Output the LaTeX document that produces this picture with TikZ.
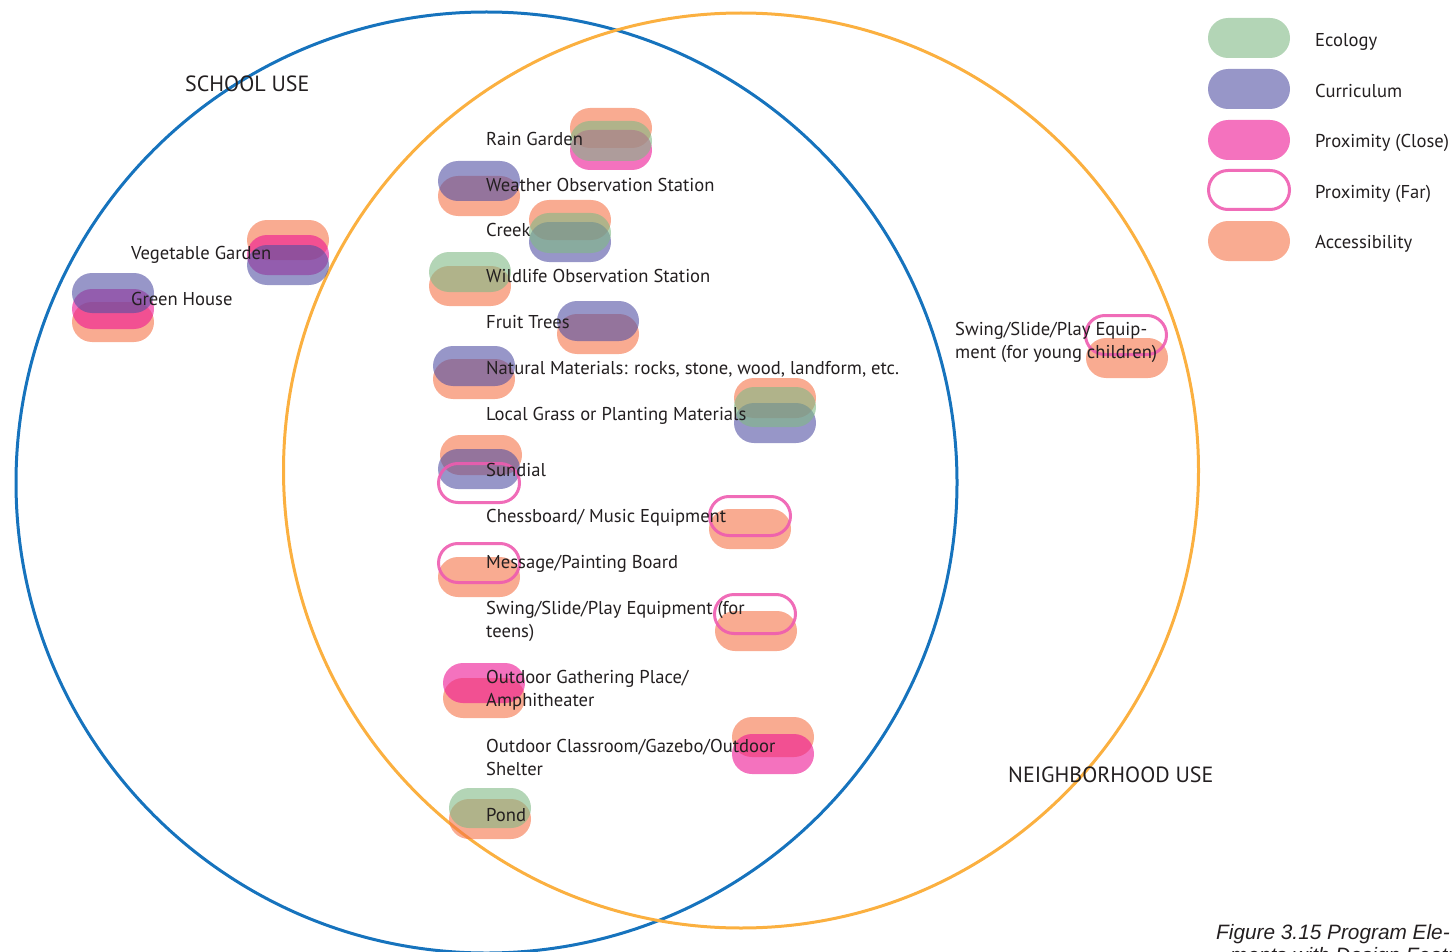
\documentclass[tikz,border=0pt]{standalone}
\usepackage{fontspec}
\setmainfont{PT Sans}
\newfontfamily\capfont{Liberation Sans}
\usetikzlibrary{calc}

\definecolor{txtgrey}{RGB}{35,31,32}
\definecolor{schoolblue}{RGB}{22,115,189}
\definecolor{hoodorange}{RGB}{251,176,64}
\definecolor{ecolC}{RGB}{128,185,133}
\definecolor{currC}{RGB}{82,80,163}
\definecolor{proxC}{RGB}{237,20,147}
\definecolor{accC}{RGB}{245,115,72}
\definecolor{ringC}{RGB}{238,92,176}

\tikzset{
  pillbase/.style={rounded corners=20pt},
  accpill/.style={pillbase, fill=accC, fill opacity=0.6},
  proxpill/.style={pillbase, fill=proxC, fill opacity=0.6},
  currpill/.style={pillbase, fill=currC, fill opacity=0.6},
  ecolpill/.style={pillbase, fill=ecolC, fill opacity=0.6},
  farring/.style={rounded corners=19.5pt, draw=ringC, line width=3pt, draw opacity=0.9},
  usecircle/.style={line width=3pt},
  lbl/.style={anchor=base west, inner sep=0pt, text=txtgrey,
    font=\fontsize{18.6}{22}\selectfont},
  zone/.style={anchor=base west, inner sep=0pt, text=txtgrey,
    font=\fontsize{22}{26}\selectfont},
  capt/.style={anchor=base west, inner sep=0pt, text=txtgrey,
    font=\capfont\itshape\fontsize{20.8}{24}\selectfont},
}

% pill: style, left x, top y
\newcommand\pill[3]{\fill[#1] (#2,#3) rectangle ++(82,40);}
% ring: left x, top y of the outer edge
\newcommand\farpill[2]{\draw[farring] ($(#1,#2)+(1.5,1.5)$) rectangle ++(81,39);}

\begin{document}
\begin{tikzpicture}[x=1pt,y=-1pt]
\useasboundingbox (0,0) rectangle (1453,952);

% the two use zones
\draw[usecircle, schoolblue] (486.5,482.5) circle[radius=470.5];
\draw[usecircle, hoodorange] (741,470.5) circle[radius=457.5];

\node[zone] (school) at (185,92) {SCHOOL USE};
\node[zone] (hood) at (1008,782) {NEIGHBORHOOD USE};

% ---- accessibility layer
\pill{accpill}{570}{108}
\pill{accpill}{438}{176}
\pill{accpill}{529}{200}
\pill{accpill}{429}{266}
\pill{accpill}{557}{314}
\pill{accpill}{433}{359}
\pill{accpill}{734}{378}
\pill{accpill}{440}{435}
\pill{accpill}{709}{509}
\pill{accpill}{438}{557}
\pill{accpill}{715}{611}
\pill{accpill}{443}{678}
\pill{accpill}{732}{717}
\pill{accpill}{449}{799}
\pill{accpill}{247}{220}
\pill{accpill}{72}{302}
\pill{accpill}{1086}{338}
% ---- proximity (close) layer
\pill{proxpill}{570}{130}
\pill{proxpill}{443}{663}
\pill{proxpill}{732}{734}
\pill{proxpill}{247}{235}
\pill{proxpill}{72}{289}
% ---- curriculum layer
\pill{currpill}{438}{161}
\pill{currpill}{529}{222}
\pill{currpill}{557}{301}
\pill{currpill}{433}{346}
\pill{currpill}{734}{403}
\pill{currpill}{438}{449}
\pill{currpill}{247}{245}
\pill{currpill}{72}{273}
% ---- ecology layer
\pill{ecolpill}{570}{121}
\pill{ecolpill}{529}{213}
\pill{ecolpill}{429}{252}
\pill{ecolpill}{734}{387}
\pill{ecolpill}{449}{788}
% ---- proximity (far) rings
\farpill{437}{462}
\farpill{708}{495}
\farpill{437}{542}
\farpill{713}{593}
\farpill{1084}{314}

% ---- program elements
\node[lbl] (rain) at (486,145.5) {Rain Garden};
\node[lbl] (weather) at (486,191.5) {Weather Observation Station};
\node[lbl] (creek) at (486,236.5) {Creek};
\node[lbl] (wildlife) at (486,282.5) {Wildlife Observation Station};
\node[lbl] (fruit) at (486,328.5) {Fruit Trees};
\node[lbl] (natural) at (486,374.5) {Natural Materials: rocks, stone, wood, landform, etc.};
\node[lbl] (grass) at (486,420.5) {Local Grass or Planting Materials};
\node[lbl] (sundial) at (486,476.5) {Sundial};
\node[lbl] (chess) at (486,522.5) {Chessboard/ Music Equipment};
\node[lbl] (message) at (486,568.5) {Message/Painting Board};
\node[lbl] (teensA) at (486,614.5) {Swing/Slide/Play Equipment (for};
\node[lbl] (teensB) at (486,637.5) {teens)};
\node[lbl] (gatherA) at (486,683.5) {Outdoor Gathering Place/};
\node[lbl] (gatherB) at (486,706.5) {Amphitheater};
\node[lbl] (classA) at (486,752.5) {Outdoor Classroom/Gazebo/Outdoor};
\node[lbl] (classB) at (486,775.5) {Shelter};
\node[lbl] (pond) at (486,821.5) {Pond};
\node[lbl] (veg) at (131,259.5) {Vegetable Garden};
\node[lbl] (greenhouse) at (131,305.5) {Green House};
\node[lbl] (youngA) at (955,335.5) {Swing/Slide/Play Equip-};
\node[lbl] (youngB) at (955,358.5) {ment (for young children)};

% ---- legend
\pill{ecolpill}{1208}{18}
\pill{currpill}{1208}{69}
\pill{proxpill}{1208}{120}
\farpill{1207}{169}
\pill{accpill}{1208}{221}
\node[lbl] (lgEcol) at (1315,46.5) {Ecology};
\node[lbl] (lgCurr) at (1315,97.5) {Curriculum};
\node[lbl] (lgClose) at (1315,147.5) {Proximity (Close)};
\node[lbl] (lgFar) at (1315,198.5) {Proximity (Far)};
\node[lbl] (lgAcc) at (1315,248.5) {Accessibility};

% ---- caption, its second line running off the page foot
\node[capt] (capA) at (1216,939) {Figure 3.15 Program Ele-};
\node[capt] (capB) at (1230,962) {ments with Design Features};
\end{tikzpicture}
\end{document}
